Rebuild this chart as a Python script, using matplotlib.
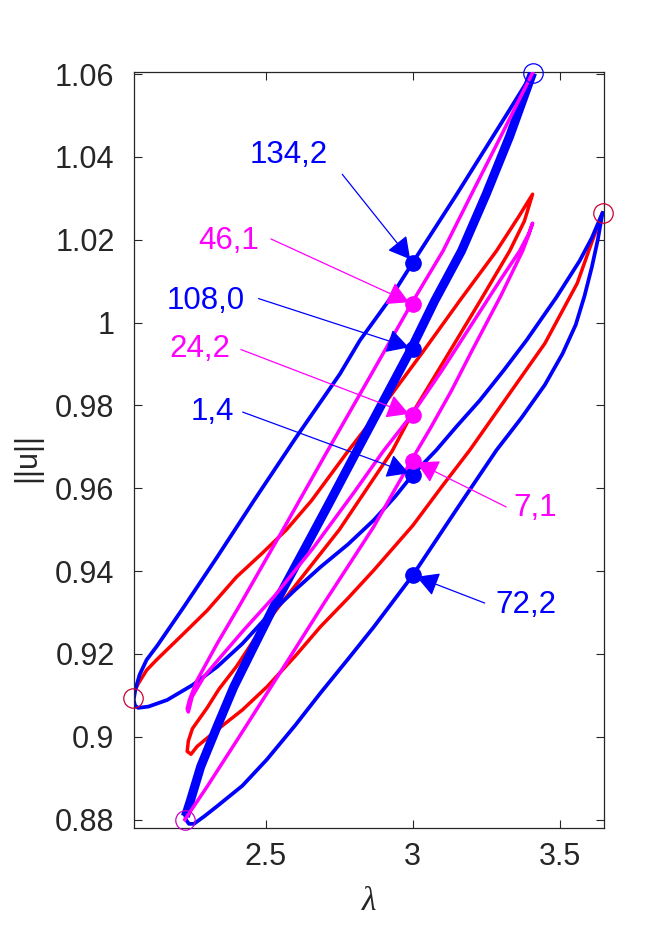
import matplotlib.pyplot as plt
from matplotlib.patches import ArrowStyle

plt.rcParams['font.family'] = ['Liberation Sans', 'DejaVu Sans']

# blue branch (thin): top fold -> upper left -> left fold -> through (1,4) -> right fold -> through (72,2) -> bottom
blue_lam = [3.408, 3.30, 3.15, 3.0, 2.918, 2.82, 2.752, 2.60, 2.459, 2.334, 2.221, 2.13, 2.094, 2.07,
            2.056, 2.050, 2.054, 2.065, 2.10, 2.164, 2.25, 2.334, 2.42, 2.504, 2.60, 2.686, 2.78, 2.867,
            2.94, 3.0, 3.08, 3.15, 3.228, 3.31, 3.387, 3.489, 3.568, 3.61, 3.646, 3.630, 3.610, 3.585,
            3.555, 3.51, 3.45, 3.37, 3.285, 3.15, 3.0, 2.867, 2.78, 2.686, 2.60, 2.503, 2.42, 2.333,
            2.29, 2.255, 2.238, 2.228, 2.226]
blue_u = [1.0603, 1.048, 1.031, 1.0145, 1.0053, 0.9957, 0.9876, 0.972, 0.957, 0.9434, 0.9314, 0.9220,
          0.9186, 0.9150, 0.9115, 0.9090, 0.9076, 0.9070, 0.9073, 0.9089, 0.9125, 0.9169, 0.9225, 0.9290,
          0.9355, 0.9410, 0.9465, 0.9523, 0.9580, 0.9633, 0.9692, 0.9750, 0.9812, 0.9885, 0.9957, 1.0061,
          1.0149, 1.0205, 1.0265, 1.0200, 1.0135, 1.0065, 0.9995, 0.9925, 0.9850, 0.9770, 0.9692, 0.9550,
          0.9390, 0.9265, 0.9188, 0.9106, 0.9028, 0.8945, 0.8882, 0.8832, 0.8808, 0.8790, 0.8790, 0.8800,
          0.8808]

# blue branch (thick): bottom -> through (108,0) -> top fold
thick_lam = [2.226, 2.244, 2.278, 2.334, 2.391, 2.459, 2.538, 2.63, 2.72, 2.811, 2.995, 3.075, 3.166,
             3.25, 3.33, 3.408]
thick_u = [0.8808, 0.8848, 0.8928, 0.9025, 0.9121, 0.9218, 0.9330, 0.9451, 0.9570, 0.9692, 0.9937,
           1.0053, 1.0173, 1.0310, 1.0450, 1.0603]

# magenta branch
mag_lam = [3.408, 3.30, 3.20, 3.103, 2.995, 2.849, 2.703, 2.558, 2.412, 2.334, 2.266, 2.240,
           2.232, 2.236, 2.249, 2.289, 2.346, 2.425, 2.527, 2.66, 2.80, 2.90, 2.995, 3.10, 3.20, 3.30,
           3.364, 3.395, 3.408, 3.394, 3.374, 3.30, 3.20, 3.132, 3.06, 2.995, 2.867, 2.70, 2.561, 2.40,
           2.30, 2.224]
mag_u = [1.0603, 1.045, 1.031, 1.0173, 1.0045, 0.9863, 0.9682, 0.9500, 0.9319, 0.9225,
         0.9137, 0.9090, 0.9068, 0.9060, 0.9097, 0.9145, 0.9193, 0.9258, 0.9338, 0.9455, 0.9590, 0.9690,
         0.9776, 0.9885, 0.9995, 1.0105, 1.0173, 1.0215, 1.0240, 1.0210, 1.0173, 1.0065, 0.9930, 0.9836,
         0.9745, 0.9667, 0.9507, 0.9325, 0.9169, 0.8990, 0.8880, 0.8800]

# red branch
red_lam = [2.048, 2.049, 2.066, 2.094, 2.128, 2.221, 2.30, 2.40, 2.49, 2.57, 2.655, 2.78, 2.90, 3.03,
           3.16, 3.285, 3.36, 3.408, 3.38, 3.33, 3.23, 3.10, 2.995, 2.93, 2.84, 2.75, 2.65, 2.55, 2.47,
           2.40, 2.34, 2.30, 2.25, 2.236, 2.232, 2.245, 2.266, 2.334, 2.42, 2.504, 2.60, 2.686, 2.78,
           2.867, 3.0, 3.10, 3.194, 3.306, 3.45, 3.56, 3.60, 3.646]
red_u = [0.9085, 0.9105, 0.9129, 0.9161, 0.9186, 0.9250, 0.9305, 0.9386, 0.9445, 0.9500, 0.9570, 0.9690,
         0.9800, 0.9925, 1.0053, 1.0173, 1.0255, 1.0310, 1.0245, 1.0173, 1.0053, 0.9900, 0.9777, 0.9690,
         0.9595, 0.9500, 0.9410, 0.9320, 0.9245, 0.9170, 0.9115, 0.9070, 0.9020, 0.8990, 0.8965, 0.8958,
         0.8977, 0.9017, 0.9065, 0.9121, 0.9195, 0.9266, 0.9335, 0.9402, 0.9510, 0.9605, 0.9692, 0.9805,
         0.9950, 1.0095, 1.0175, 1.0265]

# bifurcation points (open circles)
bif_lam = [3.408, 3.646, 2.048, 2.224]
bif_u = [1.0603, 1.0265, 0.9093, 0.8800]
bif_col = ['#0000ff', '#cc0033', '#cc0033', '#cc00cc']

# labelled solutions at lambda = 3
pt_names = ['134,2', '46,1', '108,0', '24,2', '1,4', '7,1', '72,2']
pt_lam = [3.0, 3.0, 3.0, 3.0, 3.0, 3.0, 3.0]
pt_u = [1.0145, 1.0045, 0.9937, 0.9776, 0.9633, 0.9667, 0.9390]
pt_col = ['#0000ff', '#ff00ff', '#0000ff', '#ff00ff', '#0000ff', '#ff00ff', '#0000ff']

# label text positions (lambda, ||u||), arrow tail positions
txt_pos = [(2.578, 1.0405), (2.374, 1.0198), (2.296, 1.0053), (2.275, 0.9937), (2.316, 0.9783),
           (3.418, 0.9552), (3.384, 0.9318)]
tail_pos = [(2.760, 1.0358), (2.517, 1.0202), (2.475, 1.0058), (2.415, 0.9935), (2.421, 0.9784),
            (3.318, 0.9555), (3.245, 0.9323)]

fig = plt.figure(figsize=(6.69, 9.30), dpi=100)
ax = fig.add_axes([0.2003, 0.1097, 0.7025, 0.8129])

ax.plot(red_lam, red_u, color='#ff0000', lw=2.5, solid_joinstyle='round', zorder=2)
ax.plot(mag_lam, mag_u, color='#ff00ff', lw=2.5, solid_joinstyle='round', zorder=3)
ax.plot(blue_lam, blue_u, color='#0000ff', lw=2.7, solid_joinstyle='round', zorder=2.5)
ax.plot(thick_lam, thick_u, color='#0000ff', lw=6.5, solid_capstyle='butt', zorder=2.6)

for lx, ly, c in zip(bif_lam, bif_u, bif_col):
    ax.plot(lx, ly, 'o', ms=14, mfc='none', mec=c, mew=0.9, clip_on=False, zorder=5)

for name, lx, ly, c, tp, ap in zip(pt_names, pt_lam, pt_u, pt_col, txt_pos, tail_pos):
    ax.plot(lx, ly, 'o', ms=11, color=c, zorder=6)
    ax.annotate('', xy=(lx, ly), xytext=ap,
                arrowprops=dict(arrowstyle=ArrowStyle('-|>', head_length=0.9, head_width=0.5),
                                color=c, lw=0.9, mutation_scale=15, shrinkA=0, shrinkB=3),
                zorder=7)
    ax.text(tp[0], tp[1], name, color=c, fontsize=22.5, ha='center', va='center', zorder=7)

ax.set_xlim(2.051, 3.651)
ax.set_ylim(0.878, 1.0605)
ax.set_xticks([2.5, 3.0, 3.5])
ax.set_xticklabels(['2.5', '3', '3.5'])
ax.set_yticks([0.88, 0.90, 0.92, 0.94, 0.96, 0.98, 1.00, 1.02, 1.04, 1.06])
ax.set_yticklabels(['0.88', '0.9', '0.92', '0.94', '0.96', '0.98', '1', '1.02', '1.04', '1.06'])
ax.tick_params(direction='in', length=6, width=0.8, colors='#262626', labelsize=22,
               top=True, right=True)
ax.tick_params(axis='y', pad=14)
ax.tick_params(axis='x', pad=10)
for s in ax.spines.values():
    s.set_color('#262626')
    s.set_linewidth(0.9)

ax.set_xlabel('λ', fontsize=24, family='Liberation Serif', style='italic', color='#262626')
ax.xaxis.set_label_coords(0.5, -0.078)
ax.set_ylabel('||u||', fontsize=22, color='#262626')
ax.yaxis.set_label_coords(-0.196, 0.49)

fig.savefig('out.png', dpi=100)
